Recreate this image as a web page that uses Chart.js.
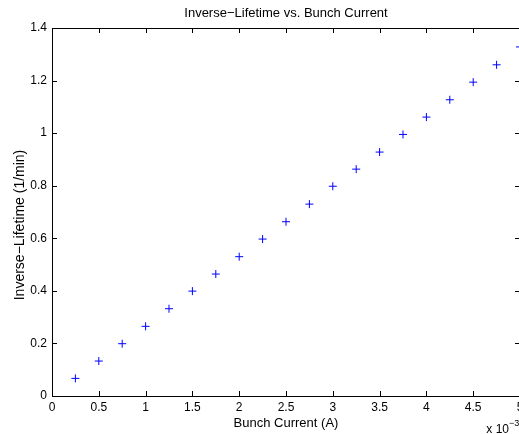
<!DOCTYPE html>
<html>
<head>
<meta charset="utf-8">
<script src="https://cdn.jsdelivr.net/npm/chart.js@4"></script>
<style>
  html, body { margin: 0; padding: 0; overflow: hidden; background: #fff; }
  #wrap { width: 519px; height: 434px; overflow: hidden; }
</style>
</head>
<body>
<div id="wrap"><canvas id="c" width="530" height="434" style="width:530px;height:434px"></canvas></div>
<script>
// Bunch current (A) and inverse lifetime (1/min)
const current = [
  0.00025, 0.0005, 0.00075, 0.001, 0.00125, 0.0015, 0.00175, 0.002, 0.00225, 0.0025,
  0.00275, 0.003, 0.00325, 0.0035, 0.00375, 0.004, 0.00425, 0.0045, 0.00475, 0.005
];
const invLifetime = [
  0.067, 0.133, 0.199, 0.265, 0.332, 0.399, 0.464, 0.530, 0.597, 0.663,
  0.730, 0.798, 0.863, 0.928, 0.995, 1.061, 1.127, 1.194, 1.260, 1.328
];
const yLabel = "Inverse\u2212Lifetime (1/min)";

const FONT = "'Liberation Sans', Arial, sans-serif";

// inward ticks + box on all four sides (MATLAB look), y label, exponent
const boxTicks = {
  id: "boxTicks",
  afterDraw(chart) {
    const ctx = chart.ctx;
    const a = chart.chartArea;
    const xs = chart.scales.x, ys = chart.scales.y;
    const len = 5;
    ctx.save();
    ctx.strokeStyle = "#000";
    ctx.lineWidth = 1;
    ctx.beginPath();
    ctx.rect(Math.round(a.left) + 0.5, Math.round(a.top) + 0.5,
             Math.round(a.right - a.left), Math.round(a.bottom - a.top));
    xs.ticks.forEach((t) => {
      const px = Math.round(xs.getPixelForValue(t.value)) + 0.5;
      ctx.moveTo(px, a.bottom); ctx.lineTo(px, a.bottom - len);
      ctx.moveTo(px, a.top); ctx.lineTo(px, a.top + len);
    });
    ys.ticks.forEach((t) => {
      const py = Math.round(ys.getPixelForValue(t.value)) + 0.5;
      ctx.moveTo(a.left, py); ctx.lineTo(a.left + len, py);
      ctx.moveTo(a.right, py); ctx.lineTo(a.right - len, py);
    });
    ctx.stroke();

    ctx.fillStyle = "#000";
    // y axis label (sits a bit below the axis middle in the original)
    ctx.save();
    ctx.translate(23.5, 225);
    ctx.rotate(-Math.PI / 2);
    ctx.font = "14px " + FONT;
    ctx.textAlign = "center";
    ctx.textBaseline = "alphabetic";
    ctx.fillText(yLabel, 0, 0);
    ctx.restore();

    // exponent label "x 10^-3"
    ctx.font = "12px " + FONT;
    ctx.textBaseline = "middle";
    ctx.textAlign = "right";
    ctx.fillText("x 10", a.right - 11, 430);
    ctx.font = "9px " + FONT;
    ctx.textAlign = "left";
    ctx.fillText("\u22123", a.right - 11, 424);
    ctx.restore();
  }
};

new Chart(document.getElementById("c"), {
  type: "scatter",
  data: {
    datasets: [{
      data: current.map((x, i) => ({ x: x, y: invLifetime[i] })),
      pointStyle: "cross",
      pointRadius: 4,
      pointBorderWidth: 1,
      borderColor: "#0000ff",
      backgroundColor: "#0000ff",
      pointHoverRadius: 4,
    }],
  },
  options: {
    responsive: false,
    animation: false,
    events: [],
    layout: { padding: { left: 0, right: 10, top: 0, bottom: 0 } },
    plugins: {
      legend: { display: false },
      tooltip: { enabled: false },
      title: {
        display: true,
        fullSize: false, // centre over the plot box, not the whole canvas
        text: "Inverse\u2212Lifetime vs. Bunch Current",
        color: "#000",
        font: { family: FONT, size: 13, weight: "normal", lineHeight: "14px" },
        padding: { top: 6, bottom: 8 },
      },
    },
    scales: {
      x: {
        type: "linear",
        min: 0,
        max: 0.005,
        ticks: {
          stepSize: 0.0005,
          color: "#000",
          padding: 4,
          maxRotation: 0,
          font: { family: FONT, size: 12 },
          callback: (v) => String(parseFloat((v * 1000).toFixed(2))),
        },
        grid: { display: false, drawTicks: false },
        border: { display: false },
        title: {
          display: true,
          text: "Bunch Current (A)",
          color: "#000",
          font: { family: FONT, size: 13 },
          padding: { top: 0, bottom: 3 },
        },
        afterFit: (s) => { s.height = 38; },
      },
      y: {
        min: 0,
        max: 1.4,
        ticks: {
          stepSize: 0.2,
          color: "#000",
          padding: 5,
          font: { family: FONT, size: 12 },
          callback: (v) => String(parseFloat(v.toFixed(2))),
        },
        grid: { display: false, drawTicks: false },
        border: { display: false },
        afterFit: (s) => { s.width = 52; },
      },
    },
  },
  plugins: [boxTicks],
});
</script>
</body>
</html>
